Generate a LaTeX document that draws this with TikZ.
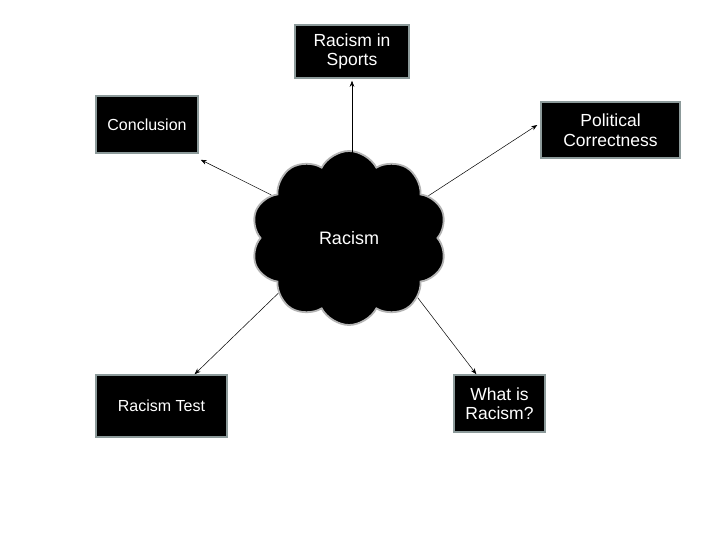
\documentclass[tikz,border=0pt]{standalone}
\usepackage{fontspec}
\setmainfont{Liberation Sans}
\usetikzlibrary{shapes.symbols,calc,arrows.meta}
\definecolor{boxedge}{HTML}{8C9A9A}
\definecolor{cloudedge}{HTML}{B4B4B4}
\tikzset{
  topic/.style={draw=boxedge, line width=1.5pt, fill=black, text=white,
    align=center, inner sep=2pt, font=\fontsize{16}{19}\selectfont},
  bigtext/.style={font=\fontsize{17.5}{19.5}\selectfont},
  link/.style={draw=black, line width=0.5pt, -{Stealth[length=6pt,width=4.5pt]}},
}
\begin{document}
\begin{tikzpicture}[x=1pt,y=-1pt]
\useasboundingbox[fill=white] (0,0) rectangle (728,546);
\node[cloud, cloud puffs=10, cloud puff arc=125, aspect=1.15,
  minimum width=196pt, minimum height=174pt, inner sep=0pt,
  draw=cloudedge, line width=1.8pt, fill=black, text=white,
  font=\fontsize{18}{20}\selectfont] (cloud) at (349,238) {Racism};
\node[topic, bigtext, minimum width=114pt, minimum height=53pt] (sports) at (352,51.5) {Racism in\\Sports};
\node[topic, minimum width=102pt, minimum height=57pt] (concl) at (147,124.5) {Conclusion};
\node[topic, bigtext, minimum width=139pt, minimum height=56pt] (pc) at (610.5,130) {Political\\Correctness};
\node[topic, minimum width=131pt, minimum height=62pt] (test) at (161.5,406) {Racism Test};
\node[topic, bigtext, minimum width=91pt, minimum height=57pt] (what) at (499.5,403.5) {What is\\Racism?};
\draw[link] ([yshift=-10pt]cloud.north -| sports.south) -- ([yshift=-2pt]sports.south);
\draw[link] (cloud.151) -- ([shift={(2pt,-6pt)}]concl.south east);
\draw[link] (cloud.28) -- ([shift={(-3pt,5pt)}]pc.west);
\draw[link] (cloud.218) -- ($(test.north)!0.5!(test.north east)$);
\draw[link] (cloud.319) -- ($(what.north west)!0.5!(what.north)$);
\end{tikzpicture}
\end{document}
